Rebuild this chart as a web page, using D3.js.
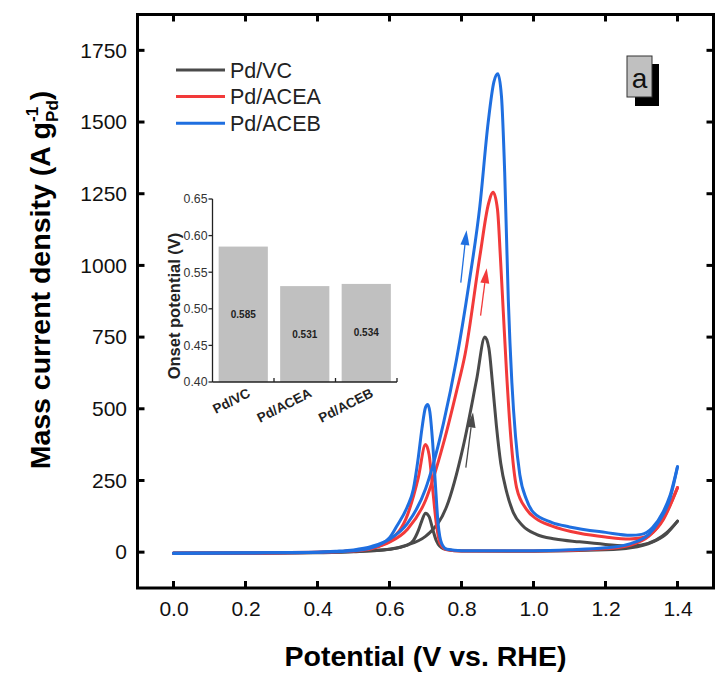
<!DOCTYPE html>
<html>
<head>
<meta charset="utf-8">
<script src="https://cdn.jsdelivr.net/npm/d3@7"></script>
<style>
html,body{margin:0;padding:0;background:#fff;}
svg{display:block;font-family:"Liberation Sans",Arial,sans-serif;}
</style>
</head>
<body>
<svg id="chart" width="728" height="684"></svg>
<script>
// ---------------- DATA ----------------
const seriesNames = ["Pd/VC", "Pd/ACEA", "Pd/ACEB"];
const seriesColors = ["#4a4a4a", "#f23a3a", "#1f6fe0"];
const potentialTicks = [0.0, 0.2, 0.4, 0.6, 0.8, 1.0, 1.2, 1.4];
const currentTicks = [0, 250, 500, 750, 1000, 1250, 1500, 1750];

// [potential (V), mass current density (A g-1)] — forward (anodic) scans
const vcForward = [[0,-5],[0.2,-4],[0.4,-2],[0.5,1],[0.6,10],[0.65,25],[0.7,55],[0.712,68],[0.759,160],[0.805,370],[0.842,602],[0.865,750],[0.876,712],[0.886,590],[0.897,440],[0.909,310],[0.925,212],[0.944,138],[0.97,92],[1.008,62],[1.06,46],[1.128,36],[1.2,27],[1.267,21],[1.3,25],[1.34,42],[1.37,68],[1.4,108]];
const aceaForward = [[0,-5],[0.2,-4],[0.4,0],[0.5,5],[0.55,15],[0.6,35],[0.65,80],[0.7,180],[0.75,380],[0.786,560],[0.81,690],[0.851,1032],[0.875,1215],[0.888,1255],[0.9,1195],[0.908,1030],[0.916,840],[0.925,630],[0.937,400],[0.953,225],[0.98,150],[1.008,116],[1.05,92],[1.128,66],[1.2,53],[1.267,46],[1.3,50],[1.34,80],[1.37,140],[1.4,225]];
const acebForward = [[0,-5],[0.2,-3],[0.4,0],[0.45,3],[0.5,8],[0.55,20],[0.6,45],[0.65,100],[0.7,220],[0.72,300],[0.75,450],[0.786,671],[0.82,930],[0.851,1207],[0.874,1498],[0.89,1640],[0.901,1668],[0.911,1590],[0.92,1323],[0.93,880],[0.94,590],[0.95,405],[0.962,270],[0.98,185],[1.0,138],[1.05,104],[1.1,88],[1.2,69],[1.27,59],[1.3,62],[1.33,85],[1.36,140],[1.38,200],[1.4,298]];

// backward (cathodic) scans, listed by increasing potential
const vcBackward = [[0,-3],[0.2,-2],[0.4,-1],[0.5,2],[0.6,10],[0.65,25],[0.666,40],[0.68,75],[0.69,110],[0.7,136],[0.71,124],[0.72,80],[0.73,40],[0.75,12],[0.8,4],[1.0,3],[1.2,8],[1.27,15],[1.33,35],[1.37,65],[1.4,108]];
const aceaBackward = [[0,-3],[0.2,-2],[0.4,0],[0.5,4],[0.55,12],[0.6,40],[0.65,130],[0.68,260],[0.7,375],[0.71,340],[0.72,220],[0.73,100],[0.74,32],[0.76,8],[0.8,4],[1.0,4],[1.2,12],[1.27,25],[1.32,55],[1.36,112],[1.4,225]];
const acebBackward = [[0,-3],[0.2,-2],[0.4,0],[0.5,5],[0.55,15],[0.6,50],[0.62,90],[0.65,160],[0.666,218],[0.68,330],[0.69,430],[0.7,505],[0.706,515],[0.712,490],[0.72,380],[0.727,245],[0.735,100],[0.745,30],[0.76,10],[0.8,5],[1.0,5],[1.1,8],[1.2,15],[1.27,30],[1.32,62],[1.35,110],[1.38,190],[1.4,298]];

// scan-direction arrows: [tail, tip] in data units
const arrowVC = [[0.812,295],[0.832,487]];
const arrowACEA = [[0.853,825],[0.870,990]];
const arrowACEB = [[0.798,940],[0.814,1123]];

// inset bar chart
const insetCategories = ["Pd/VC", "Pd/ACEA", "Pd/ACEB"];
const onsetValues = [0.585, 0.531, 0.534];
const onsetTicks = [0.40, 0.45, 0.50, 0.55, 0.60, 0.65];

// ---------------- CHART ----------------
const svg = d3.select("#chart");
const FONT = '"Liberation Sans",Arial,sans-serif';

const x = d3.scaleLinear().domain([-0.1, 1.5]).range([137.5, 713.5]);
const y = d3.scaleLinear().domain([-125, 1875]).range([588, 14.5]);

const X0 = x.range()[0], X1 = x.range()[1];
const Y0 = y.range()[0], Y1 = y.range()[1];

// curves
const line = d3.line().x(d => x(d[0])).y(d => y(d[1])).curve(d3.curveMonotoneX);
const allSeries = [
  [vcForward, vcBackward],
  [aceaForward, aceaBackward],
  [acebForward, acebBackward]
];
const gCurves = svg.append("g");
allSeries.forEach((branches, i) => {
  branches.forEach(b => {
    gCurves.append("path").attr("d", line(b))
      .attr("fill", "none").attr("stroke", seriesColors[i])
      .attr("stroke-width", 3).attr("stroke-linejoin", "round").attr("stroke-linecap", "round");
  });
});

// arrows
[arrowVC, arrowACEA, arrowACEB].forEach((a, i) => {
  const x1 = x(a[0][0]), y1 = y(a[0][1]), x2 = x(a[1][0]), y2 = y(a[1][1]);
  const ang = Math.atan2(y2 - y1, x2 - x1);
  const L = 15, W = 4.5;
  const bx = x2 - L * Math.cos(ang), by = y2 - L * Math.sin(ang);
  svg.append("line").attr("x1", x1).attr("y1", y1).attr("x2", bx).attr("y2", by)
    .attr("stroke", seriesColors[i]).attr("stroke-width", 1.3);
  const px = -Math.sin(ang) * W, py = Math.cos(ang) * W;
  svg.append("path")
    .attr("d", `M${x2},${y2}L${bx + px},${by + py}L${bx - px},${by - py}Z`)
    .attr("fill", seriesColors[i]);
});

// frame
svg.append("rect").attr("x", X0).attr("y", Y1).attr("width", X1 - X0).attr("height", Y0 - Y1)
  .attr("fill", "none").attr("stroke", "#000").attr("stroke-width", 3);

// inward ticks on four sides
const TL = 7;
const gT = svg.append("g").attr("stroke", "#000").attr("stroke-width", 3);
potentialTicks.forEach(t => {
  gT.append("line").attr("x1", x(t)).attr("x2", x(t)).attr("y1", Y0).attr("y2", Y0 - TL);
  gT.append("line").attr("x1", x(t)).attr("x2", x(t)).attr("y1", Y1).attr("y2", Y1 + TL);
});
currentTicks.forEach(t => {
  gT.append("line").attr("y1", y(t)).attr("y2", y(t)).attr("x1", X0).attr("x2", X0 + TL);
  gT.append("line").attr("y1", y(t)).attr("y2", y(t)).attr("x1", X1).attr("x2", X1 - TL);
});

// tick labels
const xAxis = d3.axisBottom(x).tickValues(potentialTicks).tickFormat(d3.format(".1f")).tickSize(0).tickPadding(0);
const gx = svg.append("g").attr("transform", `translate(0,${Y0 + 22})`).call(xAxis);
gx.select(".domain").remove();
gx.selectAll("text").attr("font-size", 21).attr("font-family", FONT).attr("fill", "#111").attr("dy", "0.3em");

const yAxis = d3.axisLeft(y).tickValues(currentTicks).tickFormat(d3.format("d")).tickSize(0).tickPadding(0);
const gy = svg.append("g").attr("transform", `translate(127,0)`).call(yAxis);
gy.select(".domain").remove();
gy.selectAll("text").attr("font-size", 21).attr("font-family", FONT).attr("fill", "#111");

// axis titles
svg.append("text").attr("x", (X0 + X1) / 2).attr("y", 666).attr("text-anchor", "middle")
  .attr("font-size", 28.5).attr("font-weight", "bold").attr("fill", "#000")
  .text("Potential (V vs. RHE)");

const yt = svg.append("text").attr("transform", "translate(50,280) rotate(-90)")
  .attr("text-anchor", "middle").attr("font-size", 28.5).attr("font-weight", "bold").attr("fill", "#000");
yt.append("tspan").text("Mass current density (A g");
yt.append("tspan").attr("font-size", 17).attr("dy", -12).text("-1");
yt.append("tspan").attr("font-size", 17).attr("dx", -15).attr("dy", 20).text("Pd");
yt.append("tspan").attr("dy", -8).text(")");

// legend
seriesNames.forEach((n, i) => {
  const ly = 70 + i * 26.6;
  svg.append("line").attr("x1", 176).attr("x2", 225).attr("y1", ly).attr("y2", ly)
    .attr("stroke", seriesColors[i]).attr("stroke-width", 3);
  svg.append("text").attr("x", 230).attr("y", ly + 7.5).attr("font-size", 21.5).attr("fill", "#222").text(n);
});

// panel label "a"
svg.append("rect").attr("x", 635).attr("y", 64).attr("width", 24).attr("height", 42).attr("fill", "#000");
svg.append("rect").attr("x", 627).attr("y", 56).attr("width", 25).attr("height", 41)
  .attr("fill", "#c0c0c0").attr("stroke", "#333").attr("stroke-width", 1);
svg.append("text").attr("x", 639.5).attr("y", 88).attr("text-anchor", "middle")
  .attr("font-size", 28).attr("fill", "#111").text("a");

// ---------------- INSET ----------------
const xi = d3.scaleBand().domain(insetCategories).range([212.5, 397]).paddingInner(0.2).paddingOuter(0.1);
const yi = d3.scaleLinear().domain([0.40, 0.65]).range([382, 199]);
const gi = svg.append("g");

gi.selectAll("rect.bar").data(onsetValues).join("rect").attr("class", "bar")
  .attr("x", (d, i) => xi(insetCategories[i])).attr("width", xi.bandwidth())
  .attr("y", d => yi(d)).attr("height", d => yi(0.40) - yi(d)).attr("fill", "#c0c0c0");

gi.selectAll("text.val").data(onsetValues).join("text").attr("class", "val")
  .attr("x", (d, i) => xi(insetCategories[i]) + xi.bandwidth() / 2)
  .attr("y", d => (yi(d) + yi(0.40)) / 2 + 3.5)
  .attr("text-anchor", "middle").attr("font-size", 10).attr("font-weight", "bold").attr("fill", "#222")
  .text(d => d3.format(".3f")(d));

// inset axes
const gia = gi.append("g").attr("stroke", "#222").attr("stroke-width", 1.3);
gia.append("line").attr("x1", xi.range()[0]).attr("x2", xi.range()[0]).attr("y1", yi(0.65)).attr("y2", yi(0.40));
gia.append("line").attr("x1", xi.range()[0]).attr("x2", xi.range()[1]).attr("y1", yi(0.40)).attr("y2", yi(0.40));
onsetTicks.forEach(t => {
  gia.append("line").attr("x1", xi.range()[0] - 4).attr("x2", xi.range()[0]).attr("y1", yi(t)).attr("y2", yi(t));
});
insetCategories.forEach(c => {
  const bx = xi(c) + xi.bandwidth() + xi.step() * xi.paddingInner() / 2;
  gia.append("line").attr("x1", bx).attr("x2", bx).attr("y1", yi(0.40)).attr("y2", yi(0.40) - 4);
});

const yiAxis = d3.axisLeft(yi).tickValues(onsetTicks).tickFormat(d3.format(".2f")).tickSize(0).tickPadding(0);
const giy = gi.append("g").attr("transform", `translate(${xi.range()[0] - 5},0)`).call(yiAxis);
giy.select(".domain").remove();
giy.selectAll("text").attr("font-size", 12.3).attr("font-family", FONT).attr("fill", "#333");

insetCategories.forEach(c => {
  const cx = xi(c) + xi.bandwidth() / 2 + 8;
  gi.append("text").attr("transform", `translate(${cx},396) rotate(-27)`)
    .attr("text-anchor", "end").attr("font-size", 13.5).attr("font-weight", "bold").attr("fill", "#222").text(c);
});

gi.append("text").attr("transform", "translate(180,306) rotate(-90)").attr("text-anchor", "middle")
  .attr("font-size", 16.5).attr("font-weight", "bold").attr("fill", "#222").text("Onset potential (V)");
</script>
</body>
</html>
